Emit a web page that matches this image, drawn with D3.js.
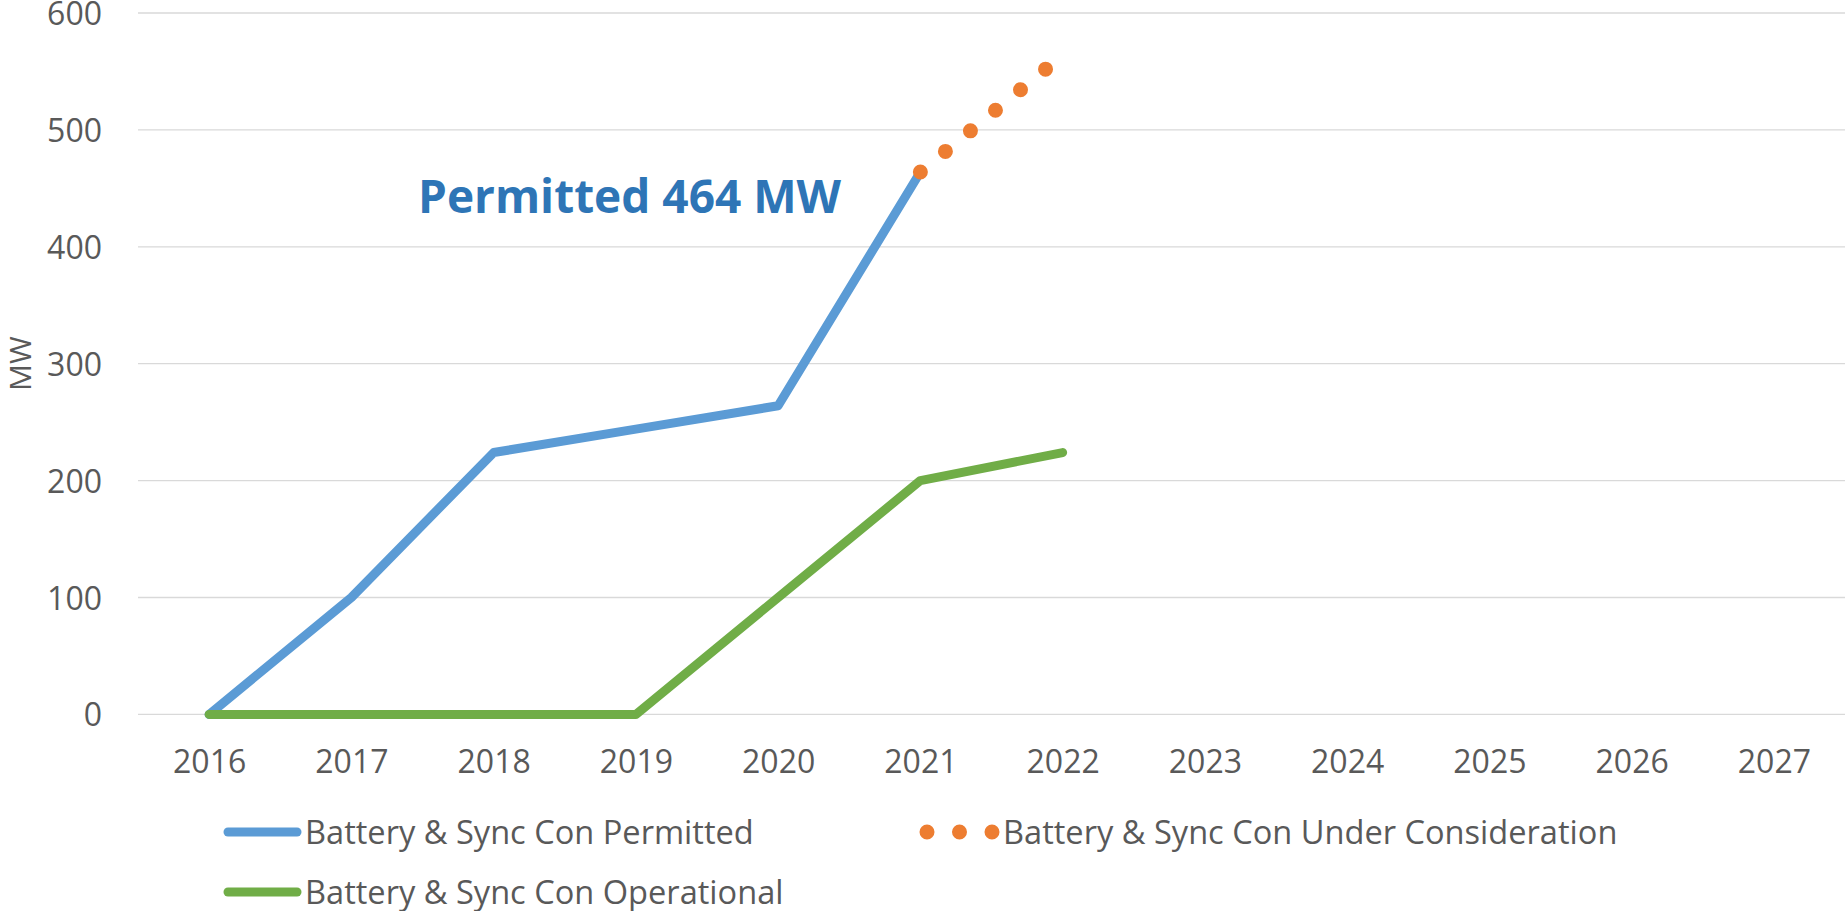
<!DOCTYPE html>
<html>
<head>
<meta charset="utf-8">
<script src="https://cdn.jsdelivr.net/npm/d3@7"></script>
<style>
  body { margin: 0; background: #fff; }
  text { font-family: "Open Sans", sans-serif; }
</style>
</head>
<body>
<div id="chart"></div>
<script>
'use strict';

// chart data
const years = ['2016', '2017', '2018', '2019', '2020', '2021', '2022', '2023', '2024', '2025', '2026', '2027'];
const permitted = [0, 100, 224, 244, 264, 464, null, null, null, null, null, null];
const underConsideration = [null, null, null, null, null, 464, 564, null, null, null, null, null];
const operational = [0, 0, 0, 0, 100, 200, 224, null, null, null, null, null];
const yTicks = [0, 100, 200, 300, 400, 500, 600];
const seriesNames = ['Battery & Sync Con Permitted', 'Battery & Sync Con Under Consideration', 'Battery & Sync Con Operational'];
const annotation = 'Permitted 464 MW';

let width = 1847,
    height = 911,
    margin = {top: 13, right: 2, bottom: 197, left: 138};

let svg = d3.select('#chart').append('svg')
    .attr('width', width)
    .attr('height', height);

let x = d3.scalePoint()
    .domain(years)
    .range([margin.left, width - margin.right])
    .padding(0.5);

let y = d3.scaleLinear()
    .domain([0, 600])
    .range([height - margin.bottom + 0.4, margin.top]);

// gridlines
svg.append('g')
    .selectAll('line')
    .data(yTicks)
    .enter()
    .append('line')
    .attr('x1', margin.left)
    .attr('x2', width - margin.right)
    .attr('y1', d => y(d))
    .attr('y2', d => y(d))
    .attr('stroke', '#d9d9d9')
    .attr('stroke-width', 1.3);

// y axis
let yAxis = svg.append('g')
    .attr('transform', 'translate(' + (margin.left - 36) + ',0)')
    .call(d3.axisLeft(y).tickValues(yTicks).tickSize(0).tickPadding(0));
yAxis.select('.domain').remove();
yAxis.selectAll('text')
    .attr('font-family', '"Open Sans", sans-serif')
    .attr('font-size', 32)
    .attr('fill', '#595959')
    .attr('dy', '0.36em');

// x axis
let xAxis = svg.append('g')
    .attr('transform', 'translate(0,' + y(0) + ')')
    .call(d3.axisBottom(x).tickSize(0).tickPadding(0));
xAxis.select('.domain').remove();
xAxis.selectAll('text')
    .attr('font-family', '"Open Sans", sans-serif')
    .attr('font-size', 32)
    .attr('fill', '#595959')
    .attr('dy', 0)
    .attr('y', 59);

// axis title
svg.append('text')
    .attr('transform', 'translate(31,' + y(300) + ') rotate(-90)')
    .attr('text-anchor', 'middle')
    .attr('font-size', 30)
    .attr('fill', '#595959')
    .text('MW');

let line = d3.line()
    .defined(d => d.v != null)
    .x(d => x(d.year))
    .y(d => y(d.v));

let toPoints = arr => years.map((year, i) => ({year: year, v: arr[i]}));

//lines
svg.append('path')
    .datum(toPoints(permitted))
    .attr('d', line)
    .attr('fill', 'none')
    .attr('stroke', '#5b9bd5')
    .attr('stroke-width', 9)
    .attr('stroke-linejoin', 'round')
    .attr('stroke-linecap', 'round');

svg.append('path')
    .datum(toPoints(operational))
    .attr('d', line)
    .attr('fill', 'none')
    .attr('stroke', '#70ad47')
    .attr('stroke-width', 9)
    .attr('stroke-linejoin', 'round')
    .attr('stroke-linecap', 'round');

svg.append('path')
    .datum(toPoints(underConsideration))
    .attr('d', line)
    .attr('fill', 'none')
    .attr('stroke', '#ed7d31')
    .attr('stroke-width', 15)
    .attr('stroke-dasharray', '0 32.4')
    .attr('stroke-linecap', 'round');

// annotation
svg.append('text')
    .attr('x', 418)
    .attr('y', 213)
    .attr('font-size', 46)
    .attr('font-weight', 'bold')
    .attr('fill', '#2e75b6')
    .text(annotation);

// legend
let legend = [
    {name: seriesNames[0], color: '#5b9bd5', x: 228, y: 832, dotted: false},
    {name: seriesNames[1], color: '#ed7d31', x: 927, y: 832, dotted: true},
    {name: seriesNames[2], color: '#70ad47', x: 228, y: 892, dotted: false}
];

let item = svg.append('g')
    .selectAll('g')
    .data(legend)
    .enter()
    .append('g')
    .attr('transform', d => 'translate(' + d.x + ',' + d.y + ')');

item.append('line')
    .attr('x1', 0)
    .attr('x2', d => d.dotted ? 66 : 69)
    .attr('stroke', d => d.color)
    .attr('stroke-width', d => d.dotted ? 15 : 9)
    .attr('stroke-linecap', 'round')
    .attr('stroke-dasharray', d => d.dotted ? '0 32.5' : null);

item.append('text')
    .attr('x', d => d.dotted ? 76 : 77)
    .attr('dy', '0.36em')
    .attr('font-size', 32.6)
    .attr('fill', '#595959')
    .text(d => d.name);
</script>
</body>
</html>
